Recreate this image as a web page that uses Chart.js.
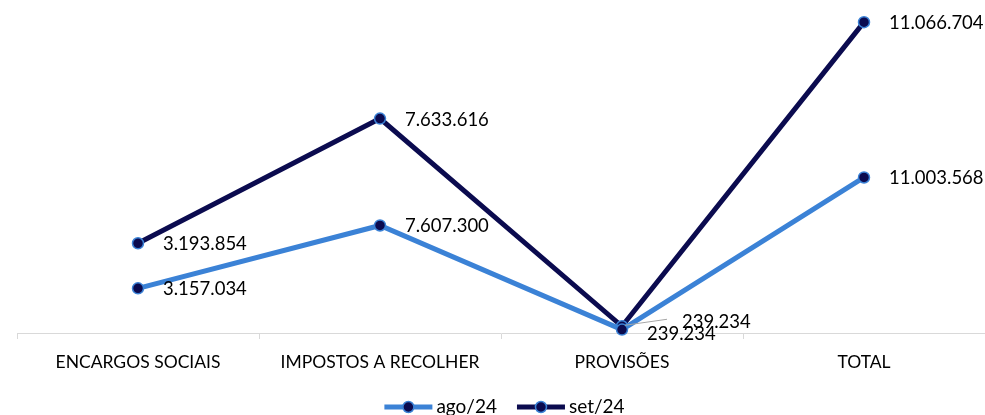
<!DOCTYPE html>
<html>
<head>
<meta charset="utf-8">
<script src="https://cdn.jsdelivr.net/npm/chart.js@4.4.1/dist/chart.umd.min.js"></script>
<style>
  body { margin: 0; background: #fff; }
  #wrap { width: 985px; height: 415px; position: relative; }
</style>
</head>
<body>
<div id="wrap"><canvas id="chart"></canvas></div>
<script>
// data
const categories = ["ENCARGOS SOCIAIS", "IMPOSTOS A RECOLHER", "PROVISÕES", "TOTAL"];
const ago24 = [3157034, 7607300, 239234, 11003568];
const set24 = [3193854, 7633616, 239234, 11066704];
const seriesNames = ["ago/24", "set/24"];

const lightBlue = '#3b82d6';
const navy = '#0b0b4f';
const fontFamily = 'Lato, "Open Sans", sans-serif';

// pt-BR number format: 3.157.034
function fmt(v) {
    return v.toString().replace(/\B(?=(\d{3})+(?!\d))/g, '.');
}

function drawMarker(ctx, x, y) {
    ctx.beginPath();
    ctx.arc(x, y, 5.5, 0, Math.PI * 2);
    ctx.fillStyle = navy;
    ctx.fill();
    ctx.lineWidth = 1.5;
    ctx.strokeStyle = lightBlue;
    ctx.stroke();
}

// value labels next to the points
const valueLabels = {
    id: 'valueLabels',
    afterDatasetsDraw(chart) {
        const ctx = chart.ctx;
        ctx.save();
        ctx.font = '18.5px ' + fontFamily;
        ctx.fillStyle = '#000';
        ctx.textBaseline = 'middle';
        ctx.textAlign = 'left';
        chart.data.datasets.forEach((ds, i) => {
            const meta = chart.getDatasetMeta(i);
            meta.data.forEach((pt, j) => {
                let dx = 25, dy = 1;
                if (j === 2) {
                    if (i === 0) { dx = 25; dy = 4; }
                    else {
                        dx = 60; dy = -4;
                        // leader line
                        ctx.strokeStyle = '#a6a6a6';
                        ctx.lineWidth = 1;
                        ctx.beginPath();
                        ctx.moveTo(pt.x + 3, pt.y - 1);
                        ctx.lineTo(pt.x + 45, pt.y - 7);
                        ctx.stroke();
                    }
                }
                ctx.fillText(fmt(ds.data[j]), pt.x + dx, pt.y + dy);
            });
        });
        ctx.restore();
    }
};

// legend: line with marker, like the original
const lineLegend = {
    id: 'lineLegend',
    afterDraw(chart) {
        const ctx = chart.ctx;
        ctx.save();
        ctx.font = '19px ' + fontFamily;
        ctx.textBaseline = 'middle';
        ctx.textAlign = 'left';
        const symW = 48, textGap = 4, itemGap = 20;
        const items = chart.data.datasets.map(ds => ({
            label: ds.label,
            color: ds.borderColor,
            w: symW + textGap + ctx.measureText(ds.label).width
        }));
        const total = items.reduce((s, it) => s + it.w, 0) + itemGap * (items.length - 1);
        let x = chart.width / 2 + 12 - total / 2;
        const y = chart.height - 8;
        items.forEach(it => {
            ctx.strokeStyle = it.color;
            ctx.lineWidth = 5;
            ctx.beginPath();
            ctx.moveTo(x, y);
            ctx.lineTo(x + symW, y);
            ctx.stroke();
            drawMarker(ctx, x + symW / 2, y);
            ctx.fillStyle = '#000';
            ctx.fillText(it.label, x + symW + textGap, y);
            x += it.w + itemGap;
        });
        ctx.restore();
    }
};

const chartData = {
    labels: categories,
    datasets: [{
        label: seriesNames[0],
        data: ago24,
        yAxisID: 'y',
        borderColor: lightBlue,
        borderWidth: 5,
        pointRadius: 5.5,
        pointBackgroundColor: navy,
        pointBorderColor: lightBlue,
        pointBorderWidth: 1.5,
        tension: 0,
        clip: false
    }, {
        label: seriesNames[1],
        data: set24,
        yAxisID: 'y1',
        borderColor: navy,
        borderWidth: 5,
        pointRadius: 5.5,
        pointBackgroundColor: navy,
        pointBorderColor: lightBlue,
        pointBorderWidth: 1.5,
        tension: 0,
        clip: false
    }]
};

const chartOptions = {
    responsive: true,
    maintainAspectRatio: false,
    animation: false,
    layout: {
        autoPadding: false,
        padding: { top: 10, left: 17, right: 0, bottom: 29 }
    },
    scales: {
        x: {
            offset: true,
            grid: {
                offset: true,
                drawOnChartArea: false,
                color: '#d9d9d9',
                tickLength: 6
            },
            border: { color: '#d9d9d9' },
            ticks: {
                color: '#000',
                font: { family: fontFamily, size: 17.5 },
                padding: 13,
                maxRotation: 0
            }
        },
        y: {
            display: false,
            min: 0,
            max: 22850000
        },
        y1: {
            display: false,
            min: 0,
            max: 11500000
        }
    },
    plugins: {
        tooltip: { enabled: false },
        legend: { display: false }
    }
};

let chart = new Chart(document.getElementById('chart'), {
    type: 'line',
    data: chartData,
    options: chartOptions,
    plugins: [valueLabels, lineLegend]
});
</script>
</body>
</html>
